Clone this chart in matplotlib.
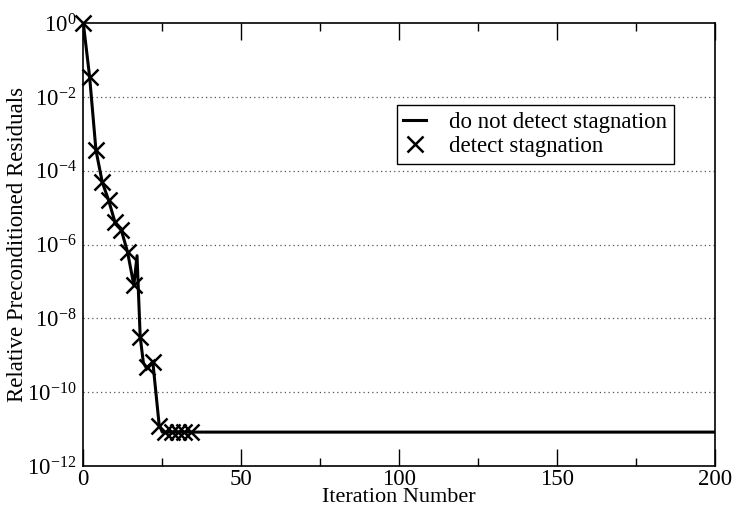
import matplotlib

matplotlib.use("Agg")
import matplotlib.pyplot as plt
from matplotlib.ticker import FixedLocator, LogFormatterSciNotation

plt.rcParams["font.family"] = ["Liberation Serif", "DejaVu Serif"]
plt.rcParams["mathtext.fontset"] = "custom"
plt.rcParams["mathtext.rm"] = "Liberation Serif"
plt.rcParams["mathtext.it"] = "Liberation Serif:italic"
plt.rcParams["axes.unicode_minus"] = False

# residual history without stagnation detection (runs the full 200 iterations)
iters_full = [0, 2, 4, 6, 8, 10, 12, 14, 16, 17, 18, 19, 20, 22, 24, 25, 200]
resid_full = [1.0, 3.5e-2, 3.6e-4, 4.9e-5, 1.6e-5, 4.1e-6, 2.5e-6, 6.3e-7,
              7.9e-8, 5.0e-7, 3.2e-9, 6.3e-10, 4.5e-10, 6.6e-10, 1.3e-11,
              8.3e-12, 8.3e-12]

# residual history with stagnation detection (stops at iteration 34)
iters_det = [0, 2, 4, 6, 8, 10, 12, 14, 16, 18, 20, 22, 24, 26, 28, 30, 32, 34]
resid_det = [1.0, 3.5e-2, 3.6e-4, 4.9e-5, 1.6e-5, 4.1e-6, 2.5e-6, 6.3e-7,
             7.9e-8, 3.2e-9, 4.9e-10, 6.6e-10, 1.2e-11, 8.5e-12, 8.5e-12,
             8.5e-12, 8.5e-12, 8.5e-12]

y_ticks = [1e0, 1e-2, 1e-4, 1e-6, 1e-8, 1e-10, 1e-12]
x_major = [0, 50, 100, 150, 200]
x_minor = [25, 75, 125, 175]

fig = plt.figure(figsize=(7.34, 5.12), dpi=100)
ax = fig.add_axes([0.1135, 0.0898, 0.8610, 0.8650])

ax.semilogy(iters_full, resid_full, color="black", linewidth=2.2,
            label="do not detect stagnation")
ax.semilogy(iters_det, resid_det, linestyle="none", marker="x", color="black",
            markersize=11, markeredgewidth=1.8, label="detect stagnation",
            clip_on=False, zorder=3)

ax.set_xlim(0, 200)
ax.set_ylim(1e-12, 1e0)
ax.xaxis.set_major_locator(FixedLocator(x_major))
ax.xaxis.set_minor_locator(FixedLocator(x_minor))
ax.yaxis.set_major_locator(FixedLocator(y_ticks))
ax.yaxis.set_minor_locator(FixedLocator([]))
ax.yaxis.set_major_formatter(LogFormatterSciNotation())

ax.tick_params(axis="x", which="major", direction="in", length=12, width=1,
               top=True, labelsize=16.5, pad=2)
ax.tick_params(axis="x", which="minor", direction="in", length=6, width=1,
               top=True)
ax.tick_params(axis="y", which="both", length=0, labelsize=16.5, pad=5)

for yv in y_ticks[1:-1]:
    ax.axhline(yv, color="#555555", linestyle=(0, (1, 2.5)), linewidth=0.9,
               zorder=0)

for sp in ax.spines.values():
    sp.set_linewidth(1.2)

ax.set_xlabel("Iteration Number", fontsize=16, labelpad=-1)
ax.set_ylabel("Relative Preconditioned Residuals", fontsize=16.5, labelpad=-1)

leg = ax.legend(loc="upper right", bbox_to_anchor=(0.935, 0.815), fontsize=16.5,
                frameon=True, fancybox=False, edgecolor="black", framealpha=1,
                handlelength=1.0, handletextpad=1.0, borderpad=0.3,
                labelspacing=0.15, borderaxespad=0)
leg.get_frame().set_linewidth(1.0)

fig.savefig("out.png", dpi=100)
